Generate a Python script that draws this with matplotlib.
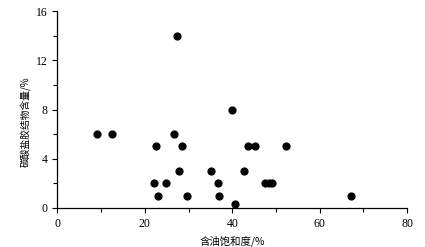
import matplotlib
matplotlib.use("Agg")
import matplotlib.pyplot as plt
from matplotlib.ticker import MultipleLocator

oil_saturation = [9.0, 12.6, 22.5, 22.2, 23.0, 24.8, 26.6, 27.3, 27.8, 28.5, 29.7,
                  35.1, 36.7, 37.0, 39.9, 40.7, 42.7, 43.7, 45.3, 47.6, 48.3, 49.1,
                  52.4, 67.2]
carbonate = [6, 6, 5, 2, 1, 2, 6, 14, 3, 5, 1,
             3, 2, 1, 8, 0.3, 3, 5, 5, 2, 2, 2,
             5, 1]
x_ticks = [0, 20, 40, 60, 80]
y_ticks = [0, 4, 8, 12, 16]

fig = plt.figure(figsize=(4.25, 2.47), dpi=100)
ax = fig.add_axes([0.135, 0.158, 0.823, 0.797])
ax.scatter(oil_saturation, carbonate, s=24, color="black", zorder=3, clip_on=False)
ax.set_xlim(0, 80)
ax.set_ylim(0, 16)
ax.set_xticks(x_ticks)
ax.set_yticks(y_ticks)
ax.xaxis.set_minor_locator(MultipleLocator(10))
ax.yaxis.set_minor_locator(MultipleLocator(2))
for s in ["top", "right"]:
    ax.spines[s].set_visible(False)
for s in ["left", "bottom"]:
    ax.spines[s].set_linewidth(0.9)
ax.tick_params(which="both", direction="out", width=0.8, colors="black")
ax.tick_params(which="major", length=3.5)
ax.tick_params(which="minor", length=3)
for lab in ax.get_xticklabels() + ax.get_yticklabels():
    lab.set_fontfamily(["Liberation Serif", "DejaVu Serif"])
    lab.set_fontsize(8.5)
ax.set_xlabel("含油饱和度/%", fontsize=7.5,
              family=["Noto Sans CJK SC", "DejaVu Sans"], labelpad=4)
ax.set_ylabel("碳酸盐胶结物含量/%", fontsize=7,
              family=["Noto Sans CJK SC", "DejaVu Sans"])
ax.yaxis.set_label_coords(-0.072, 0.44)
fig.savefig("out.png", dpi=100)
